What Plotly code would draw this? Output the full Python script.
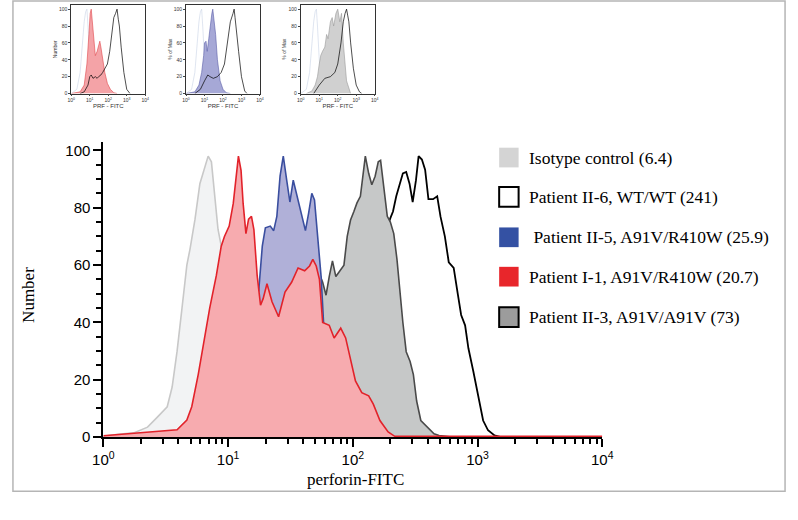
import plotly.graph_objects as go

# ---------------- main histogram data (fluorescence, count) ----------------
iso_x = [1.0, 1.07, 1.31, 1.75, 2.26, 2.71, 3.25, 3.56, 3.90, 4.27, 4.67, 4.95, 5.43, 5.94, 6.50, 6.92,
         7.35, 7.80, 8.30, 8.81, 10.6, 12.6, 15.2, 19.9, 28.6, 41.1, 10000]
iso_y = [0.3, 0.5, 1, 1.5, 3.5, 7, 10.6, 17.5, 30, 45, 60, 65.6, 76, 88.4, 94, 98,
         96, 84, 72.5, 66.6, 50, 30, 15, 5, 1, 0, 0]

red_x = [1.0, 2.71, 3.90, 4.67, 5.11, 5.77, 6.50, 7.12, 8.05, 8.81, 9.35, 10.2, 11.0, 11.6, 12.1, 12.7,
         13.2, 13.9, 14.6, 15.4, 16.1, 17.1, 18.2, 19.1, 20.5, 22.5, 25.4, 28.6, 32.3, 36.4, 41.1, 45.0,
         47.8, 50.9, 54.0, 57.3, 64.7, 70.8, 80.0, 87.6, 95.9, 105, 118, 134, 146, 165, 192, 217, 10000]
red_y = [0.5, 2, 2.6, 6, 10.6, 22, 35.7, 45, 56.4, 66.6, 70, 73.6, 81.5, 91, 98, 93,
         81.5, 71, 76, 77, 72.4, 56.4, 46, 48.3, 53.5, 47.2, 42, 50.6, 54, 59, 58, 59.7,
         62, 59.7, 55, 40, 39, 34.6, 38, 34.6, 26.5, 19.6, 15.5, 14.4, 11.5, 5.8, 1.8, 0.3, 0.3]

blue_x = [1.0, 2.71, 4.67, 6.71, 9.64, 12.7, 15.2, 16.6, 17.6, 18.8, 19.9, 21.8, 23.2, 24.6, 26.1, 27.7,
          29.5, 31.3, 33.3, 35.4, 38.7, 41.7, 44.2, 46.9, 49.3, 51.4, 53.3, 55.7, 59.1, 70.8, 93.1, 122, 175]
blue_y = [0, 0.3, 2, 10, 30, 45, 48, 49, 51, 66.6, 73, 73.6, 72, 77, 91, 98,
          89.6, 82, 89.6, 85, 78, 72, 78, 85, 82.7, 73.6, 63, 56, 35, 20, 8, 2, 0]

gray_x = [2.71, 6.71, 11.6, 19.9, 34.3, 45.0, 52.3, 57.3, 61.0, 64.7, 68.7, 73.1, 77.6, 84.9, 90.2, 95.9,
          102, 108, 115, 122, 126, 134, 142, 151, 160, 167, 178, 189, 200, 213, 226, 240,
          252, 268, 288, 306, 325, 351, 397, 448, 491, 624]
gray_y = [0, 0.5, 5, 20, 35, 45, 58.6, 54, 49.5, 56, 61.5, 56, 57.5, 60, 70, 75.7,
          78.7, 81.7, 84, 93, 98, 92, 88, 91, 96, 96.5, 87.3, 77, 75, 71, 62, 49.5,
          40, 29.8, 26.4, 21.8, 12.6, 5.8, 3.5, 1.2, 0.6, 0]

wt_x = [6.71, 16.6, 41.1, 84.9, 122, 160, 200, 210, 223, 238, 252, 268, 285, 302, 321, 337,
        358, 380, 404, 440, 475, 505, 547, 588, 644, 697, 739, 795, 845, 925, 1013, 1109,
        1214, 1369, 1545, 2220]
wt_y = [0, 5, 15, 30, 50, 65, 76.4, 78.7, 84, 88.4, 92, 92.5, 88.4, 82, 89.6, 98,
        96.8, 93.3, 83, 83, 84, 76.9, 70, 61, 59, 49.5, 42.6, 39, 31, 23, 13.9, 5.8,
        2.4, 0.6, 0, 0]

# ---------------- inset data ----------------
ins_iso_x = [1, 2, 3, 4, 5, 6, 7, 8, 10, 13, 18]
ins_iso_y = [0, 5, 25, 60, 85, 97, 100, 80, 40, 10, 0]

ins1_fill_x = [1, 3, 5, 7, 9, 10.5, 12, 14, 17, 20, 25, 30, 35, 40, 50, 65, 90, 130, 200, 300]
ins1_fill_y = [0, 2, 10, 35, 70, 95, 100, 80, 55, 45, 50, 58, 62, 55, 40, 25, 12, 5, 1, 0]
ins1_wt_x = [3, 5, 8, 10, 12, 15, 20, 25, 30, 40, 50, 70, 90, 120, 150, 200, 250, 300, 350, 400, 500, 700, 1000, 1500]
ins1_wt_y = [0, 2, 10, 20, 22, 18, 20, 18, 20, 22, 25, 30, 35, 50, 70, 90, 95, 100, 88, 80, 55, 25, 5, 0]

ins2_fill_x = [1, 3, 5, 7, 9, 10, 12, 14, 17, 20, 25, 28, 32, 36, 40, 50, 70, 100, 150, 250]
ins2_fill_y = [0, 2, 10, 25, 45, 60, 62, 50, 65, 80, 95, 100, 90, 85, 70, 40, 15, 5, 1, 0]
ins2_wt_x = [3, 6, 10, 15, 20, 30, 50, 80, 120, 180, 250, 350, 400, 450, 550, 700, 1000, 1500, 2000]
ins2_wt_y = [0, 5, 15, 22, 20, 18, 20, 25, 35, 60, 85, 95, 100, 90, 75, 50, 20, 3, 0]

ins3_fill_x = [2, 4, 6, 8, 10, 12, 15, 20, 25, 30, 40, 50, 60, 80, 100, 130, 160, 200, 300, 500]
ins3_fill_y = [0, 3, 10, 20, 35, 45, 50, 55, 70, 65, 85, 90, 80, 95, 100, 85, 95, 60, 15, 0]
ins3_wt_x = [5, 10, 20, 40, 70, 100, 150, 200, 250, 300, 350, 400, 500, 700, 1000, 1500, 2000]
ins3_wt_y = [0, 10, 18, 20, 25, 35, 60, 85, 95, 100, 92, 85, 60, 30, 10, 2, 0]

legend_labels = ["Isotype control (6.4)", "Patient II-6, WT/WT (241)", " Patient II-5, A91V/R410W (25.9)",
                 "Patient I-1, A91V/R410W (20.7)", "Patient II-3, A91V/A91V (73)"]
y_ticks = [0, 20, 40, 60, 80, 100]
x_ticks = [1, 10, 100, 1000, 10000]
x_ticktext = ["10<sup>0</sup>", "10<sup>1</sup>", "10<sup>2</sup>", "10<sup>3</sup>", "10<sup>4</sup>"]

W, H = 798, 520
def px(x):
    return x / W
def py(y):
    return 1 - y / H

fig = go.Figure()

def hist(x, y, fillc, linec, lw=1.6, xa="x", ya="y", fill=True):
    fig.add_trace(go.Scatter(x=x, y=y, mode="lines", line=dict(color=linec, width=lw),
                             fill="tozeroy" if fill else None, fillcolor=fillc,
                             xaxis=xa, yaxis=ya, hoverinfo="skip", showlegend=False))

# main traces (back to front)
hist(wt_x, wt_y, "#ffffff", "#000000", 1.8)
hist(gray_x, gray_y, "#c6c8c8", "#4a4a4a", 1.6)
hist(iso_x, iso_y, "#f2f3f4", "#c8c8c8", 1.6)
hist(blue_x, blue_y, "#b0b0d8", "#3a4e9f", 1.6)
hist(red_x, red_y, "#f7abaf", "#e2222a", 1.6)

# insets
inset_sets = [
    (ins1_fill_x, ins1_fill_y, ins1_wt_x, ins1_wt_y, "#f4a3a7", "#e0474c"),
    (ins2_fill_x, ins2_fill_y, ins2_wt_x, ins2_wt_y, "#a6a8d6", "#5a5ea8"),
    (ins3_fill_x, ins3_fill_y, ins3_wt_x, ins3_wt_y, "#d0d0d0", "#999999"),
]
for i, (fx, fy, wx, wy, fc, lc) in enumerate(inset_sets):
    xa, ya = "x%d" % (i + 2), "y%d" % (i + 2)
    hist(ins_iso_x, ins_iso_y, None, "#c9d3e6", 0.6, xa, ya, fill=False)
    hist(fx, fy, fc, lc, 0.6, xa, ya)
    hist(wx, wy, None, "#000000", 0.7, xa, ya, fill=False)

sans = "Liberation Sans"
serif = "Liberation Serif"

layout = dict(
    width=W, height=H, margin=dict(l=0, r=0, t=0, b=0),
    paper_bgcolor="white", plot_bgcolor="rgba(0,0,0,0)", showlegend=False,
    xaxis=dict(type="log", range=[0, 4], domain=[px(95), px(608)], anchor="y",
               showline=True, linecolor="black", linewidth=2, showgrid=False, zeroline=False,
               tickvals=x_ticks, ticktext=x_ticktext, ticks="outside", ticklen=8, tickwidth=2,
               tickcolor="black", tickfont=dict(family=sans, size=15, color="black"),
               minor=dict(tickvals=[m * d for d in [1, 10, 100, 1000] for m in range(2, 10)],
                          ticks="outside", ticklen=5, tickwidth=1.5, tickcolor="black")),
    yaxis=dict(range=[0, 103], domain=[py(444), py(144)], anchor="x",
               showline=True, linecolor="black", linewidth=2, showgrid=False, zeroline=False,
               tickvals=y_ticks, ticks="outside", ticklen=8, tickwidth=2, tickcolor="black",
               tickfont=dict(family=sans, size=15, color="black"),
               minor=dict(dtick=5, ticks="outside", ticklen=5, tickwidth=1.5, tickcolor="black")),
)

inset_x0 = [62, 180, 298]
inset_w = 76
inset_ylabels = ["Number", "% of Max", "% of Max"]
for i in range(3):
    k = i + 2
    layout["xaxis%d" % k] = dict(type="log", range=[0, 4], domain=[px(inset_x0[i]), px(inset_x0[i] + inset_w)],
                                 anchor="y%d" % k, showline=True, mirror=True, linecolor="#333", linewidth=0.8,
                                 showgrid=False, zeroline=False, tickvals=x_ticks, ticktext=x_ticktext,
                                 ticks="outside", ticklen=2, tickwidth=0.6,
                                 tickfont=dict(family=sans, size=5, color="#333"),
                                 title=dict(text="PRF - FITC", font=dict(family=sans, size=6, color="#333"),
                                            standoff=1))
    layout["yaxis%d" % k] = dict(range=[0, 105], domain=[py(95), py(5)], anchor="x%d" % k,
                                 showline=True, mirror=True, linecolor="#333", linewidth=0.8,
                                 showgrid=False, zeroline=False, tickvals=y_ticks, ticks="outside",
                                 ticklen=2, tickwidth=0.6, tickfont=dict(family=sans, size=5, color="#333"),
                                 title=dict(text=inset_ylabels[i], font=dict(family=sans, size=5, color="#333"),
                                            standoff=1))

fig.update_layout(**layout)

# axis titles as annotations
fig.add_annotation(text="Number", x=px(18), y=py(300), xref="paper", yref="paper", textangle=-90,
                   xanchor="center", yanchor="middle",
                   showarrow=False, font=dict(family=serif, size=17, color="black"))
fig.add_annotation(text="perforin-FITC", x=px(354), y=py(487), xref="paper", yref="paper",
                   xanchor="center", yanchor="middle",
                   showarrow=False, font=dict(family=serif, size=17, color="black"))

# legend
leg_fill = ["#d4d4d4", "#ffffff", "#3451a3", "#e8262b", "#9c9c9c"]
leg_border = [None, "#000000", None, None, "#000000"]
leg_y = [160, 200, 241, 281, 322]
for lab, fc, bc, yc in zip(legend_labels, leg_fill, leg_border, leg_y):
    fig.add_shape(type="rect", xref="paper", yref="paper", x0=px(502), x1=px(522),
                  y0=py(yc + 10), y1=py(yc - 10), fillcolor=fc,
                  line=dict(color=bc if bc else fc, width=2 if bc else 0))
    fig.add_annotation(text=lab, x=px(531), y=py(yc), xref="paper", yref="paper",
                       xanchor="left", yanchor="middle",
                       showarrow=False, font=dict(family=serif, size=17.5, color="black"))

# outer frame
fig.add_shape(type="rect", xref="paper", yref="paper", x0=px(2), x1=px(796), y0=py(499), y1=py(1),
              line=dict(color="#b5b5b5", width=1.5), fillcolor="rgba(0,0,0,0)")

fig.write_html("out.html", config={"displayModeBar": False},
               post_script="document.body.style.margin='0px';")
